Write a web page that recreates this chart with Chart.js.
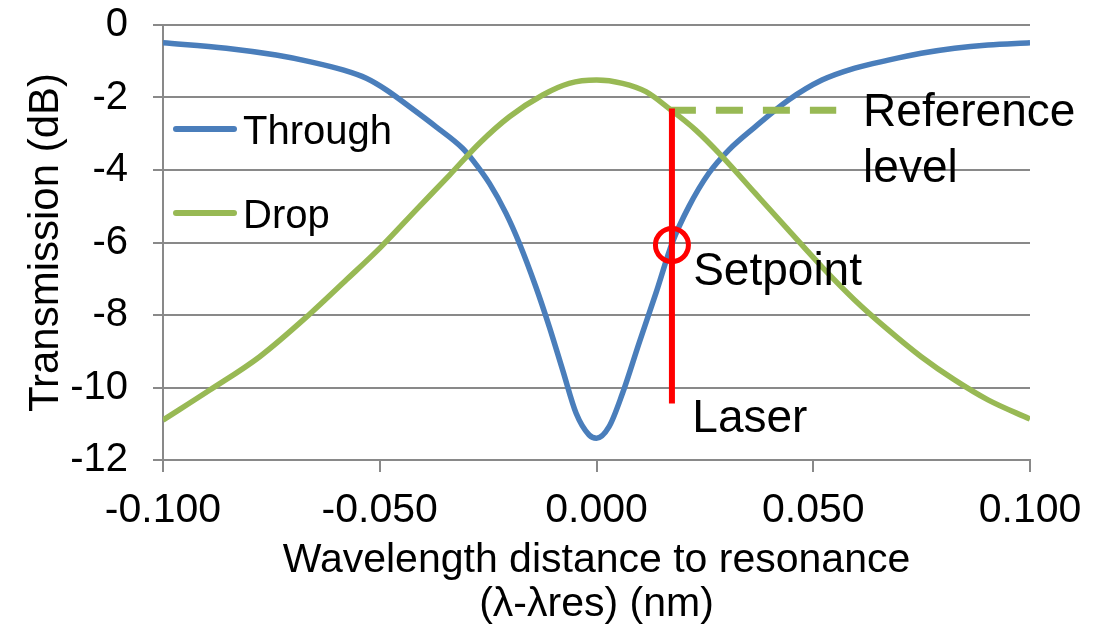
<!DOCTYPE html>
<html>
<head>
<meta charset="utf-8">
<script src="https://cdn.jsdelivr.net/npm/chart.js@4.4.0/dist/chart.umd.min.js"></script>
<style>
  html, body { margin: 0; padding: 0; background: #ffffff; }
  canvas { display: block; }
</style>
</head>
<body>
<canvas id="c" width="1110" height="629"></canvas>
<script>
// ---- Data ----
const seriesNames = ['Through', 'Drop'];

const throughX = [-0.100, -0.0854, -0.0739, -0.0662, -0.0585, -0.0531, -0.0485, -0.0432, -0.0370, -0.0309,
                  -0.0286, -0.0247, -0.0209, -0.0178, -0.0140, -0.0109, -0.0078, -0.0047, -0.0017, 0.000,
                  0.0029, 0.0060, 0.0098, 0.0137, 0.0175, 0.0213, 0.0259, 0.0305, 0.0366, 0.0443,
                  0.0520, 0.0596, 0.0673, 0.0749, 0.0826, 0.0903, 0.100];
const throughY = [-0.49, -0.64, -0.83, -1.01, -1.24, -1.47, -1.79, -2.25, -2.81, -3.40,
                  -3.72, -4.37, -5.19, -6.02, -7.22, -8.32, -9.52, -10.71, -11.31, -11.40,
                  -11.08, -10.16, -8.78, -7.40, -6.00, -5.01, -4.09, -3.45, -2.81, -2.07,
                  -1.52, -1.19, -0.97, -0.78, -0.64, -0.55, -0.49];

const dropX = [-0.100, -0.0892, -0.0777, -0.0662, -0.0577, -0.0497, -0.0416, -0.0339, -0.0270, -0.0201,
               -0.0124, -0.0063, 0.000, 0.0060, 0.0114, 0.0167, 0.0229, 0.0290, 0.0366, 0.0443,
               0.0520, 0.0596, 0.0673, 0.0749, 0.0826, 0.0903, 0.100];
const dropY = [-10.90, -10.07, -9.15, -7.98, -7.03, -6.12, -5.10, -4.14, -3.26, -2.53,
               -1.93, -1.61, -1.52, -1.61, -1.84, -2.30, -2.90, -3.63, -4.64, -5.66,
               -6.67, -7.59, -8.41, -9.15, -9.79, -10.34, -10.87];

const laserX = 0.0174;            // laser wavelength offset (nm)
const laserY = [-2.30, -10.44];   // vertical extent of the laser marker (dB)
const referenceX = [0.0167, 0.0553];
const referenceY = -2.35;         // reference level (dB)
const setpointY = -6.07;          // setpoint (dB)

const xTickValues = [-0.100, -0.050, 0.000, 0.050, 0.100];
const xTickLabels = ['-0.100', '-0.050', '0.000', '0.050', '0.100'];
const yTickValues = [-12, -10, -8, -6, -4, -2, 0];
const yTickLabels = ['-12', '-10', '-8', '-6', '-4', '-2', '0'];

const noteTexts = ['Reference', 'level', 'Setpoint', 'Laser'];
const noteX = [0.0615, 0.0615, 0.0223, 0.0221];
const noteY = [-2.79, -4.32, -7.17, -11.22];

// ---- Styles ----
const FONT = '"Liberation Sans", Arial, sans-serif';
const BLUE = '#4A7EBB';
const GREEN = '#98B954';
const RED = '#FF0000';
const GRID = '#898989';

function pts(xs, ys) { return xs.map((v, i) => ({ x: v, y: ys[i] })); }

const overlay = {
  id: 'overlay',
  afterDatasetsDraw(chart) {
    const { ctx, chartArea } = chart;
    const xs = chart.scales.x, ys = chart.scales.y;
    ctx.save();
    // text notes
    ctx.font = '46px ' + FONT;
    ctx.fillStyle = '#000';
    ctx.textAlign = 'left';
    ctx.textBaseline = 'alphabetic';
    noteTexts.forEach((t, i) => {
      ctx.fillText(t, xs.getPixelForValue(noteX[i]), ys.getPixelForValue(noteY[i]));
    });
    // legend
    const colors = [BLUE, GREEN];
    const rowY = [chartArea.top + 104, chartArea.top + 188];
    ctx.font = '40px ' + FONT;
    seriesNames.forEach((name, i) => {
      ctx.beginPath();
      ctx.strokeStyle = colors[i];
      ctx.lineWidth = 6;
      ctx.lineCap = 'round';
      ctx.moveTo(chartArea.left + 13, rowY[i]);
      ctx.lineTo(chartArea.left + 71, rowY[i]);
      ctx.stroke();
      ctx.fillStyle = '#000';
      ctx.fillText(name, chartArea.left + 80, rowY[i] + 15);
    });
    ctx.restore();
  }
};

Chart.defaults.font.family = FONT;
Chart.defaults.color = '#000';

new Chart(document.getElementById('c'), {
  type: 'line',
  data: {
    datasets: [
      { label: seriesNames[0], data: pts(throughX, throughY), borderColor: BLUE, borderWidth: 5.5,
        pointRadius: 0, cubicInterpolationMode: 'monotone', order: 5, fill: false },
      { label: seriesNames[1], data: pts(dropX, dropY), borderColor: GREEN, borderWidth: 5.5,
        pointRadius: 0, cubicInterpolationMode: 'monotone', order: 4, fill: false },
      { label: 'Reference level', data: pts(referenceX, [referenceY, referenceY]), borderColor: GREEN,
        borderWidth: 7, borderDash: [27, 20], borderCapStyle: 'butt', pointRadius: 0, order: 3, fill: false },
      { label: 'Laser', data: pts([laserX, laserX], laserY), borderColor: RED, borderWidth: 6,
        borderCapStyle: 'butt', pointRadius: 0, order: 2, fill: false },
      { label: 'Setpoint', data: [{ x: laserX, y: setpointY }], showLine: false, pointRadius: 16.5,
        pointBorderWidth: 5, pointBorderColor: RED, pointBackgroundColor: 'rgba(0,0,0,0)',
        pointStyle: 'circle', order: 1 }
    ]
  },
  options: {
    responsive: false,
    devicePixelRatio: 1,
    animation: false,
    events: [],
    layout: { padding: { top: 25, right: 80, bottom: 0, left: 0 } },
    plugins: { legend: { display: false }, tooltip: { enabled: false } },
    scales: {
      x: {
        type: 'linear', min: -0.1, max: 0.1,
        afterBuildTicks(scale) { scale.ticks = xTickValues.map(v => ({ value: v })); },
        afterFit(scale) { scale.height = 169; },
        ticks: {
          font: { size: 41 }, color: '#000', padding: 14, maxRotation: 0, autoSkip: false,
          callback: (v, i) => xTickLabels[i]
        },
        grid: { drawOnChartArea: false, drawTicks: true, tickLength: 12, color: GRID, lineWidth: 2 },
        border: { display: true, color: GRID, width: 2 },
        title: {
          display: true,
          text: ['Wavelength distance to resonance', '(\u03bb-\u03bbres) (nm)'],
          font: { size: 41, lineHeight: 1.08 }, color: '#000',
          padding: { top: 0, bottom: 2 }
        }
      },
      y: {
        type: 'linear', min: -12, max: 0,
        afterBuildTicks(scale) { scale.ticks = yTickValues.map(v => ({ value: v })); },
        afterFit(scale) { scale.width = 163; scale.paddingTop = 0; scale.paddingBottom = 0; },
        ticks: {
          font: { size: 40 }, color: '#000', padding: 25, autoSkip: false,
          callback: (v, i) => yTickLabels[i]
        },
        grid: { drawTicks: true, tickLength: 10, color: GRID, lineWidth: 2 },
        border: { display: true, color: GRID, width: 2 },
        title: {
          display: true, text: 'Transmission (dB)',
          font: { size: 42, lineHeight: 1.1 }, color: '#000',
          padding: { top: 23, bottom: 0 }
        }
      }
    }
  },
  plugins: [overlay]
});
</script>
</body>
</html>
